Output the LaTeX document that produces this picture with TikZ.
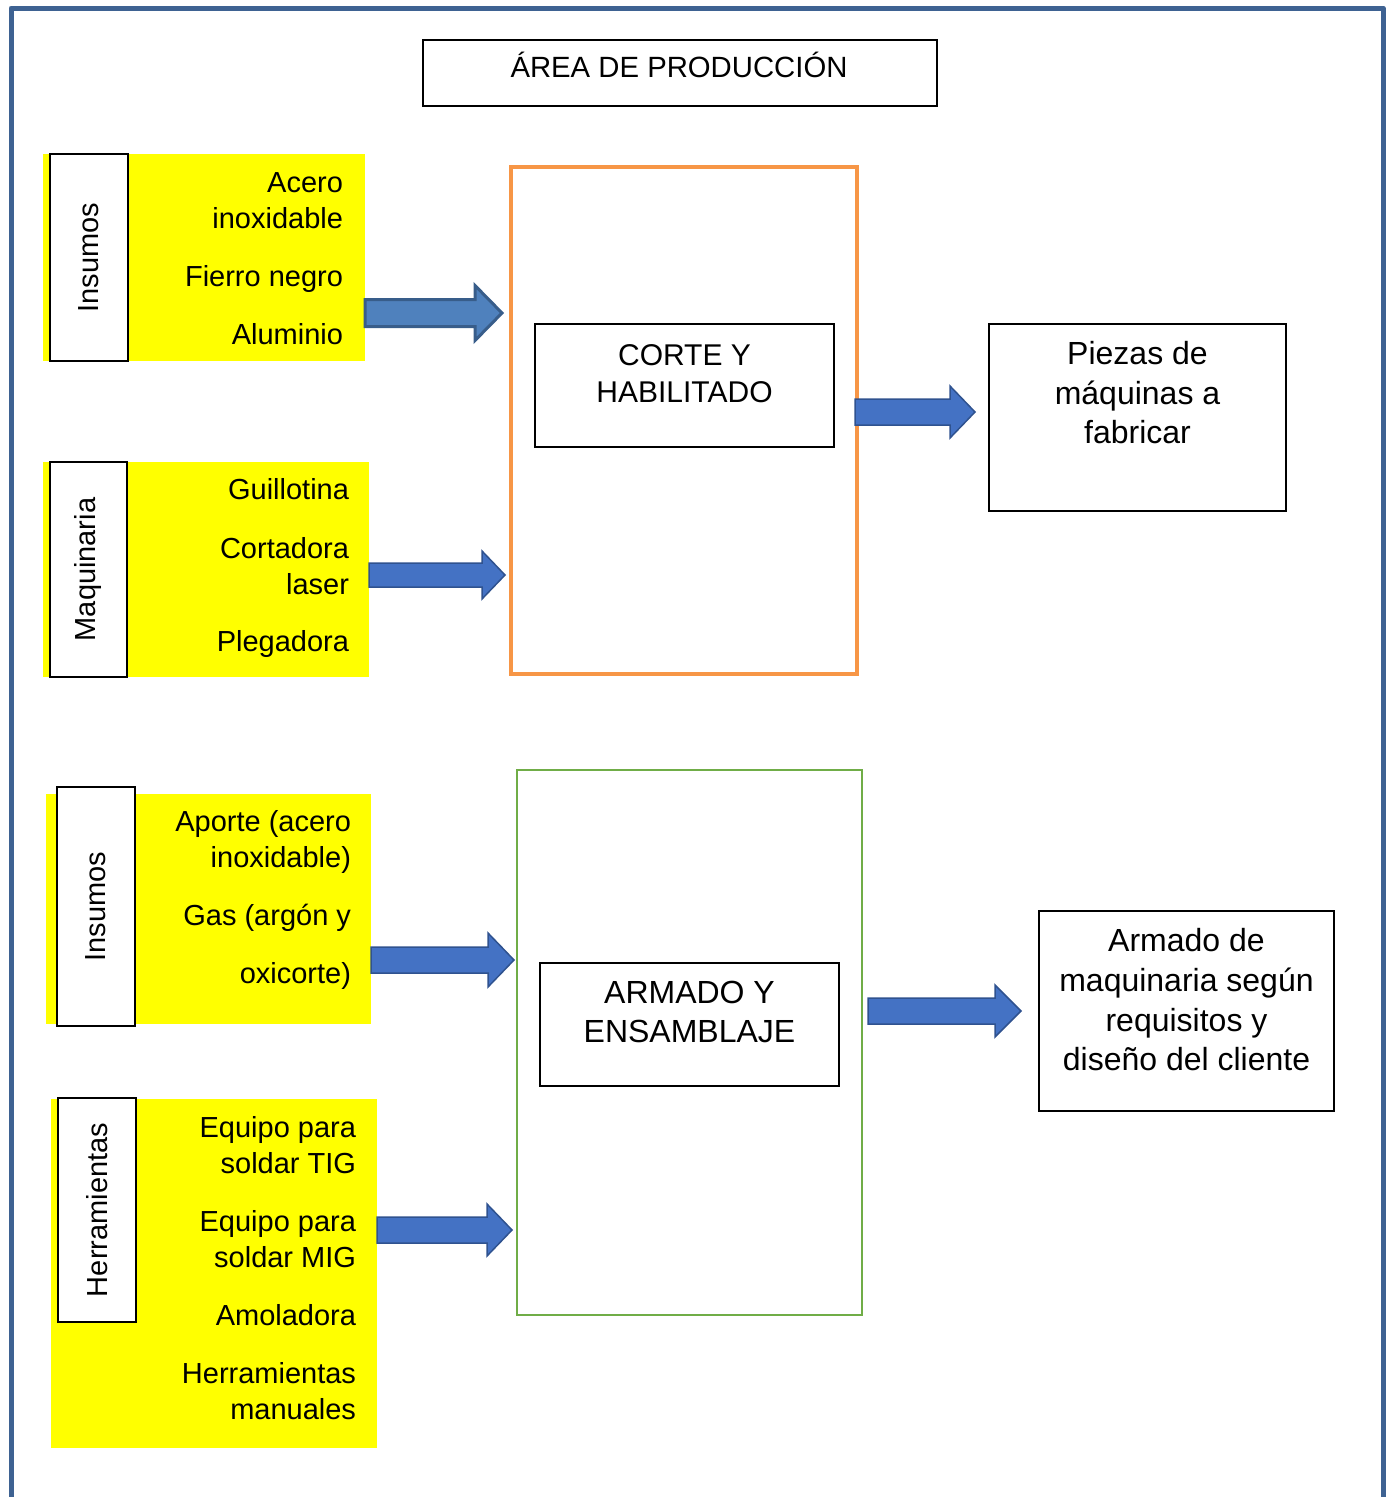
\documentclass[tikz,border=0pt]{standalone}
\usepackage{fontspec}
\setmainfont{Liberation Sans}
\usetikzlibrary{calc}
\definecolor{framecol}{RGB}{62,98,146}
\definecolor{orangebox}{RGB}{247,150,70}
\definecolor{greenbox}{RGB}{112,173,71}
\definecolor{yel}{RGB}{255,255,0}
\definecolor{arrowfill}{RGB}{68,114,196}
\definecolor{arrowline}{RGB}{47,82,143}
\definecolor{arrowfillb}{RGB}{79,129,189}
\definecolor{arrowlineb}{RGB}{56,93,138}

% block arrow: style, start, tip, shaft half-height, head half-height, head length
\newcommand\fatarrow[6]{%
  \draw[#1] ($(#2)+(0,-#4)$) -- ($(#3)+(-#6,-#4)$) -- ($(#3)+(-#6,-#5)$) -- (#3)
    -- ($(#3)+(-#6,#5)$) -- ($(#3)+(-#6,#4)$) -- ($(#2)+(0,#4)$) -- cycle;}

\begin{document}
\begin{tikzpicture}[x=1pt,y=-1pt,
  every node/.style={inner sep=0pt, outer sep=0pt},
  plainbox/.style={draw=black, line width=1.5pt, fill=white},
  yellowblock/.style={fill=yel},
  labelbox/.style={draw=black, line width=1.5pt, fill=white},
  labeltext/.style={rotate=90, font=\fontsize{29}{34}\selectfont},
  item/.style={anchor=base east, font=\fontsize{29}{36}\selectfont},
  boxtext/.style={anchor=north, align=center},
  arrowA/.style={fill=arrowfillb, draw=arrowlineb, line width=3pt, line join=miter},
  arrowB/.style={fill=arrowfill, draw=arrowline, line width=1.5pt, line join=miter}]

\useasboundingbox (0,0) rectangle (1392,1497);

% outer frame, open at the bottom
\draw[framecol, line width=5pt, line join=round] (11,1505) -- (11,8) -- (1383,8) -- (1383,1505);

% title
\node[plainbox, minimum width=514pt, minimum height=66pt] (title) at (680,73) {};
\node[anchor=base, font=\fontsize{29.3}{35}\selectfont] (titletext) at (679,77.5) {ÁREA DE PRODUCCIÓN};

% ---------- upper stage: cutting ----------
\node[draw=orangebox, line width=4pt, minimum width=346pt, minimum height=507pt] (cutframe) at (684,420.5) {};
\node[plainbox, minimum width=299pt, minimum height=123pt] (cut) at (684.5,385.5) {};
\node[boxtext, font=\fontsize{30}{37}\selectfont] (cuttext) at (684.5,344.5) {CORTE Y\\HABILITADO};

\node[plainbox, minimum width=297pt, minimum height=187pt] (parts) at (1137.5,417.5) {};
\node[boxtext, font=\fontsize{32}{39.5}\selectfont] (partstext) at (1137.5,341.5) {Piezas de\\máquinas a\\fabricar};

% inputs for cutting
\node[yellowblock, minimum width=322pt, minimum height=207pt] (y1) at (204,257.5) {};
\node[labelbox, minimum width=78pt, minimum height=207pt] (l1) at (89,257.5) {};
\node[labeltext] (l1t) at (89,257.5) {Insumos};
\foreach \t/\y in {Acero/182, inoxidable/218, Fierro negro/276, Aluminio/334}
  \node[item] (y1-\y) at (343,\y+10.5) {\t};

\node[yellowblock, minimum width=326pt, minimum height=215pt] (y2) at (206,569.5) {};
\node[labelbox, minimum width=77pt, minimum height=215pt] (l2) at (88.5,569.5) {};
\node[labeltext] (l2t) at (88.5,569.5) {Maquinaria};
\foreach \t/\y in {Guillotina/489, Cortadora/548, laser/584, Plegadora/641}
  \node[item] (y2-\y) at (349,\y+10.5) {\t};

% ---------- lower stage: assembly ----------
\node[draw=greenbox, line width=2.5pt, minimum width=345pt, minimum height=545pt] (asmframe) at (689.5,1042.5) {};
\node[plainbox, minimum width=299pt, minimum height=123pt] (asm) at (689.5,1024.5) {};
\node[boxtext, font=\fontsize{32}{39}\selectfont] (asmtext) at (689.5,981.5) {ARMADO Y\\ENSAMBLAJE};

\node[plainbox, minimum width=295pt, minimum height=200pt] (machine) at (1186.5,1011) {};
\node[boxtext, font=\fontsize{32}{39.7}\selectfont] (machinetext) at (1186.5,928.5) {Armado de\\maquinaria según\\requisitos y\\diseño del cliente};

\node[yellowblock, minimum width=325pt, minimum height=230pt] (y3) at (208.5,909) {};
\node[labelbox, minimum width=78pt, minimum height=239pt] (l3) at (96,906.5) {};
\node[labeltext] (l3t) at (96,906.5) {Insumos};
\foreach \t/\y in {{Aporte (acero}/821, {inoxidable)}/857, {Gas (argón y}/915, {oxicorte)}/973}
  \node[item] (y3-\y) at (351,\y+10.5) {\t};

\node[yellowblock, minimum width=326pt, minimum height=349pt] (y4) at (214,1273.5) {};
\node[labelbox, minimum width=78pt, minimum height=224pt] (l4) at (97,1210) {};
\node[labeltext] (l4t) at (97,1210) {Herramientas};
\foreach \t/\y in {Equipo para/1127, soldar TIG/1163, Equipo para/1221, soldar MIG/1257, Amoladora/1315, Herramientas/1373, manuales/1409}
  \node[item] (y4-\y) at (356,\y+10.5) {\t};

% ---------- block arrows ----------
\coordinate (a1s) at (y1.east |- 0,313);   \coordinate (a1e) at (502,313);
\coordinate (a2s) at (y2.east |- 0,575);   \coordinate (a2e) at (505,575);
\coordinate (a3s) at (855,412);            \coordinate (a3e) at (975,412);
\coordinate (a4s) at (y3.east |- 0,960);   \coordinate (a4e) at (514,960);
\coordinate (a5s) at (y4.east |- 0,1230);  \coordinate (a5e) at (512,1230);
\coordinate (a6s) at (868,1011);           \coordinate (a6e) at (1021,1011);

\fatarrow{arrowA}{a1s}{a1e}{13.5}{27.5}{27}
\fatarrow{arrowB}{a2s}{a2e}{12}{24}{23}
\fatarrow{arrowB}{a3s}{a3e}{13}{26}{25}
\fatarrow{arrowB}{a4s}{a4e}{13}{27}{26}
\fatarrow{arrowB}{a5s}{a5e}{13}{26}{25}
\fatarrow{arrowB}{a6s}{a6e}{13}{26}{26}

\end{tikzpicture}
\end{document}
